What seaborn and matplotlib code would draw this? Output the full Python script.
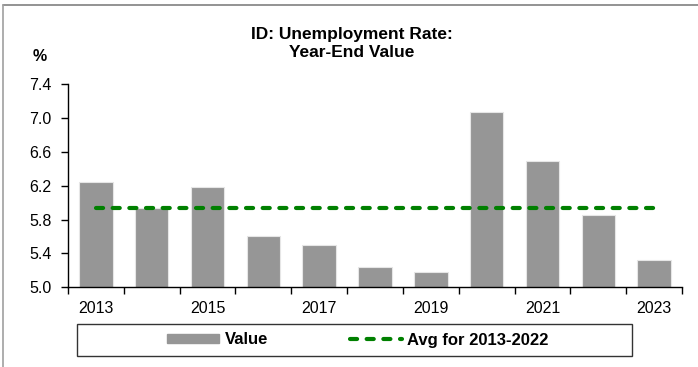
import numpy as np
import pandas as pd
import matplotlib.pyplot as plt
import matplotlib.patches as mpatches
import matplotlib.lines as mlines
import seaborn as sns

years = ['2013', '2014', '2015', '2016', '2017', '2018', '2019', '2020', '2021', '2022', '2023']
values = [6.25, 5.94, 6.18, 5.61, 5.50, 5.24, 5.18, 7.07, 6.49, 5.86, 5.32]
yticks = [5.0, 5.4, 5.8, 6.2, 6.6, 7.0, 7.4]

df = pd.DataFrame({'Year': years, 'Value': values})
avg = df.loc[df['Year'] <= '2022', 'Value'].mean()
df['pos'] = np.arange(len(df))
df['Avg'] = avg

sns.set_theme(style="white")
plt.rcParams['font.family'] = ['Liberation Sans', 'DejaVu Sans']
plt.rcParams['text.color'] = 'black'

fig = plt.figure(figsize=(6.98, 3.67), dpi=100)
ax = fig.add_axes([68/698, 1 - 287.3/367, (682 - 68)/698, (287.3 - 84.3)/367])

bar_color = '#969696'
line_color = '#008000'
dash = [1.7, 2.3]

sns.barplot(data=df, x='pos', y='Value', color=bar_color, width=0.6,
            edgecolor='#e6e6e6', linewidth=0.8, saturation=1, ax=ax, native_scale=True)
sns.lineplot(data=df, x='pos', y='Avg', color=line_color, linewidth=3.0, ax=ax, legend=False)
avg_line = ax.lines[-1]
avg_line.set_dashes(dash)
avg_line.set_dash_capstyle('round')

ax.set_xlim(-0.5, len(years) - 0.5)
ax.set_ylim(5.0, 7.4)
ax.set_yticks(yticks)
ax.set_yticklabels([f'{v:.1f}' for v in yticks], fontsize=11.5, color='black')

ax.set_xticks(df['pos'][::2])
ax.set_xticklabels(years[::2], fontsize=11.5, color='black')
ax.set_xticks(np.arange(-0.5, len(years)), minor=True)
ax.tick_params(axis='x', which='major', length=0, pad=10, bottom=True)
ax.tick_params(axis='x', which='minor', length=5, width=1, color='black', direction='out', bottom=True)
ax.tick_params(axis='y', which='major', length=5, width=1, color='black', direction='out', pad=7, left=True)
ax.set_xlabel('')
ax.set_ylabel('')

for side in ['top', 'right']:
    ax.spines[side].set_visible(False)
for side in ['left', 'bottom']:
    ax.spines[side].set_color('black')
    ax.spines[side].set_linewidth(1)

fig.text(352/698, 1 - 43.5/367, 'ID: Unemployment Rate:\nYear-End Value', ha='center', va='center',
         fontsize=12.5, fontweight='bold', linespacing=1.3)
fig.text(40/698, 1 - 56.5/367, '%', ha='center', va='center', fontsize=11.5, fontweight='bold')

# outer frame (top and left edges visible)
fig.add_artist(mlines.Line2D([3/698, 1], [1 - 5/367, 1 - 5/367], transform=fig.transFigure,
                             color='#808080', linewidth=1.2))
fig.add_artist(mlines.Line2D([3/698, 3/698], [0, 1 - 5/367], transform=fig.transFigure,
                             color='#a0a0a0', linewidth=1.2))

# legend box
fig.add_artist(mpatches.Rectangle((77/698, 1 - 356/367), (632 - 77)/698, 32/367,
                                  transform=fig.transFigure, fill=False, edgecolor='#333333', linewidth=1))
handles = [mpatches.Patch(color=bar_color, label='Value'),
           mlines.Line2D([], [], color=line_color, linewidth=3, dashes=dash,
                         dash_capstyle='round', label='Avg for 2013-2022')]
leg = fig.legend(handles=handles, loc='center', bbox_to_anchor=(358/698, 1 - 340/367), ncol=2,
                 frameon=False, prop={'weight': 'bold', 'size': 12}, handlelength=3.1,
                 handleheight=0.45, handletextpad=0.35, columnspacing=4.9)

plt.savefig('out.png', dpi=100)
